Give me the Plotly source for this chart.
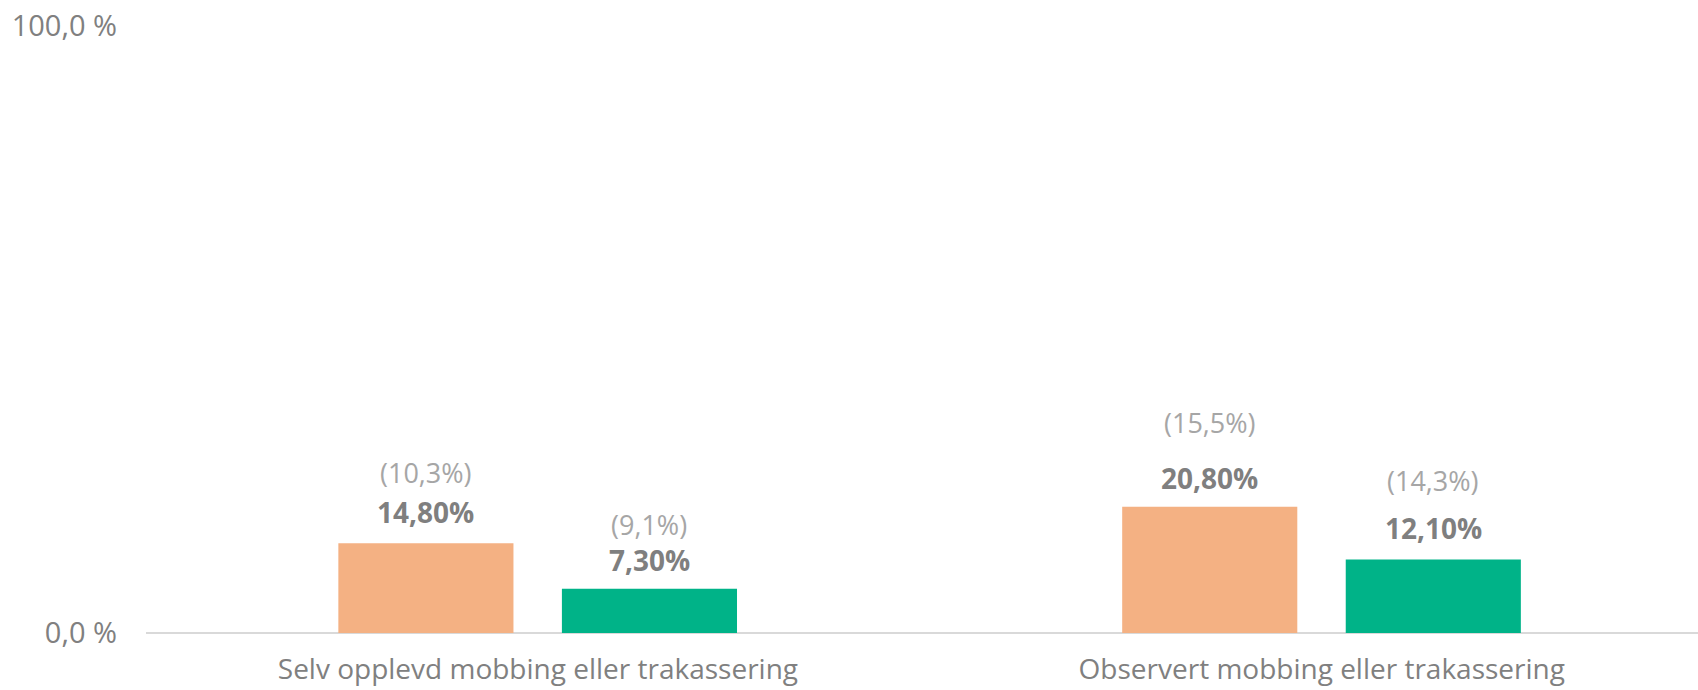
import plotly.graph_objects as go

categories = ["Selv opplevd mobbing eller trakassering", "Observert mobbing eller trakassering"]
series_a = [14.8, 20.8]
series_b = [7.3, 12.1]
prev_a = [10.3, 15.5]
prev_b = [9.1, 14.3]
ytick_vals = [0, 100]
ytick_text = ["0,0 %", "100,0 %"]

# layout / style constants
FONT = "Open Sans"
ORANGE = "#F4B183"
GREEN = "#00B388"
BAR_W = 0.2234
OFF_A = -0.2546
OFF_B = 0.0306
bold_shift_a = [31, 29]
bold_shift_b = [29, 32]
paren_shift_a = [71, 84]
paren_shift_b = [64, 79]

xs = list(range(len(categories)))

fig = go.Figure()
fig.add_trace(go.Bar(x=xs, y=series_a, width=BAR_W, offset=OFF_A,
                     marker=dict(color=ORANGE, line=dict(width=0)), hoverinfo="skip"))
fig.add_trace(go.Bar(x=xs, y=series_b, width=BAR_W, offset=OFF_B,
                     marker=dict(color=GREEN, line=dict(width=0)), hoverinfo="skip"))

def fmt2(v):
    return f"{v:.2f}".replace(".", ",") + "%"

def fmt1(v):
    return "(" + f"{v:.1f}".replace(".", ",") + "%)"

annotations = []
for i in xs:
    for vals, prevs, off, bs, ps in [
        (series_a, prev_a, OFF_A, bold_shift_a, paren_shift_a),
        (series_b, prev_b, OFF_B, bold_shift_b, paren_shift_b),
    ]:
        cx = i + off + BAR_W / 2
        annotations.append(dict(x=cx, y=vals[i], xref="x", yref="y", text="<b>" + fmt2(vals[i]) + "</b>",
                                showarrow=False, yanchor="middle", yshift=bs[i],
                                font=dict(family=FONT, size=28, color="#7F7F7F")))
        annotations.append(dict(x=cx, y=vals[i], xref="x", yref="y", text=fmt1(prevs[i]),
                                showarrow=False, yanchor="middle", yshift=ps[i],
                                font=dict(family=FONT, size=27, color="#A6A6A6")))

fig.update_layout(
    width=1698, height=690,
    margin=dict(l=146, r=0, t=26, b=57),
    paper_bgcolor="white", plot_bgcolor="white",
    showlegend=False,
    annotations=annotations,
    xaxis=dict(range=[-0.5, 1.48], tickvals=xs, ticktext=categories, showgrid=False,
               zeroline=False, showline=False, ticks="", ticklabelstandoff=17, automargin=False,
               tickfont=dict(family=FONT, size=28, color="#808080")),
    yaxis=dict(range=[0, 100], tickvals=ytick_vals, ticktext=ytick_text, showgrid=True,
               gridcolor="#D9D9D9", gridwidth=1.5, zeroline=True, zerolinecolor="#D9D9D9",
               zerolinewidth=1.5, showline=False, ticks="", ticklabelstandoff=28, automargin=False,
               tickfont=dict(family=FONT, size=29, color="#808080")),
)

fig.write_html("out.html")
